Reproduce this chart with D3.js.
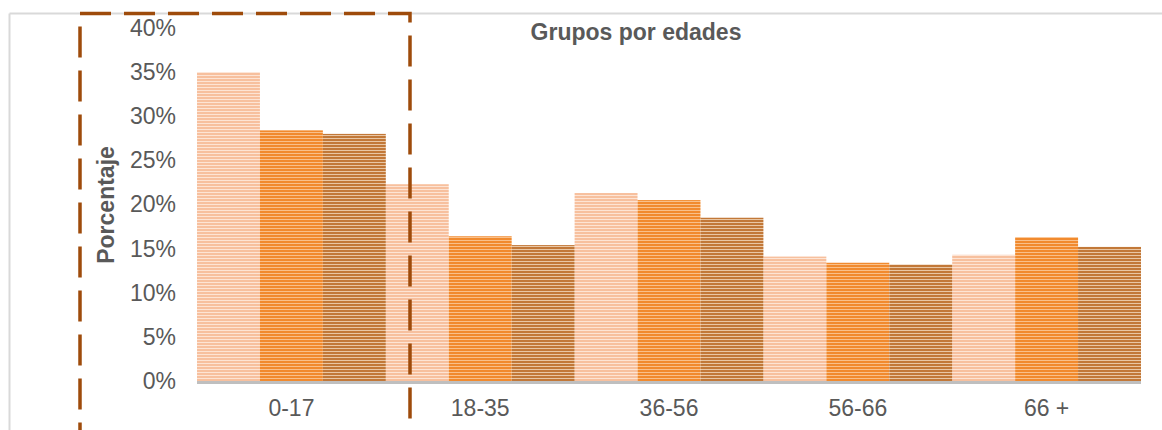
<!DOCTYPE html>
<head>
<meta charset="utf-8">
<title>Grupos por edades</title>
<script type="text/javascript" src="https://d3js.org/d3.v7.min.js"></script>
<style>
body { margin: 0; background: #fff; }
text { font-family: "Liberation Sans", Arial, sans-serif; fill: #595959; }
</style>
</head>
<body>
<div id="chart"></div>

<script>
// data
var categories = ["0-17", "18-35", "36-56", "56-66", "66 +"];
var serie1 = [35.0, 22.3, 21.3, 14.1, 14.3];
var serie2 = [28.4, 16.4, 20.5, 13.4, 16.3];
var serie3 = [28.0, 15.4, 18.5, 13.2, 15.2];
var yTicks = [0, 5, 10, 15, 20, 25, 30, 35, 40];

var seriesNames = ["serie1", "serie2", "serie3"];
var seriesData = [serie1, serie2, serie3];

// stripe colours for each series: [background, stripe]
var stripes = [["#fde4d4", "#f7c09e"], ["#f9c08a", "#f18a2e"], ["#e9c6a4", "#c27838"]];

var width = 1162, height = 430;
var plot = {left: 197, right: 1141, top: 28, bottom: 381};

var svg = d3.select("#chart")
  .append("svg")
    .attr("width", width)
    .attr("height", height);

// striped fills
var defs = svg.append("defs");
stripes.forEach(function(c, i) {
  var p = defs.append("pattern")
    .attr("id", "stripe" + i)
    .attr("patternUnits", "userSpaceOnUse")
    .attr("width", 6)
    .attr("height", 3);
  p.append("rect").attr("width", 6).attr("height", 3).attr("fill", c[0]);
  p.append("rect").attr("y", 1).attr("width", 6).attr("height", 2).attr("fill", c[1]);
});
defs.append("filter").attr("id", "soft")
  .append("feGaussianBlur").attr("stdDeviation", 0.6);

// outer frame (top and left only visible)
svg.append("line")
  .attr("x1", 9.5).attr("y1", 13.5).attr("x2", 1162).attr("y2", 13.5)
  .attr("stroke", "#d9d9d9").attr("stroke-width", 2);
svg.append("line")
  .attr("x1", 9.5).attr("y1", 13.5).attr("x2", 9.5).attr("y2", 430)
  .attr("stroke", "#d9d9d9").attr("stroke-width", 2);

// scales
var xScale = d3.scaleBand()
  .domain(categories)
  .range([plot.left, plot.right])
  .padding(0);

var xInner = d3.scaleBand()
  .domain(seriesNames)
  .range([0, xScale.bandwidth()])
  .padding(0);

var yScale = d3.scaleLinear()
  .domain([0, 40])
  .range([plot.bottom, plot.top]);

// bars
seriesData.forEach(function(values, s) {
  svg.append("g")
    .attr("filter", "url(#soft)")
    .selectAll("rect")
    .data(values)
    .enter()
    .append("rect")
      .attr("x", function(d, i) { return xScale(categories[i]) + xInner(seriesNames[s]); })
      .attr("y", function(d) { return yScale(d); })
      .attr("width", xInner.bandwidth())
      .attr("height", function(d) { return yScale(0) - yScale(d); })
      .attr("fill", "url(#stripe" + s + ")");
});

// baseline
svg.append("line")
  .attr("x1", plot.left).attr("x2", plot.right)
  .attr("y1", yScale(0) + 1.5).attr("y2", yScale(0) + 1.5)
  .attr("stroke", "#bfbfbf").attr("stroke-width", 3);

// Y axis
var yAxis = d3.axisLeft(yScale)
  .tickValues(yTicks)
  .tickFormat(function(d) { return d + "%"; })
  .tickSize(0)
  .tickPadding(0);

var gy = svg.append("g")
  .attr("transform", "translate(176,0)")
  .call(yAxis);
gy.select(".domain").remove();
gy.selectAll("text")
  .style("font-size", "23px")
  .attr("fill", "#595959");

// X axis
var xAxis = d3.axisBottom(xScale).tickSize(0).tickPadding(0);
var gx = svg.append("g")
  .attr("transform", "translate(0,408)")
  .call(xAxis);
gx.select(".domain").remove();
gx.selectAll("text")
  .attr("y", 0)
  .attr("dy", "0.35em")
  .style("font-size", "23px")
  .attr("fill", "#595959");

// title
svg.append("text")
  .attr("x", 636)
  .attr("y", 40)
  .attr("text-anchor", "middle")
  .style("font-size", "23px")
  .style("font-weight", "bold")
  .text("Grupos por edades");

// y label
svg.append("text")
  .attr("transform", "translate(114,205) rotate(-90)")
  .attr("text-anchor", "middle")
  .style("font-size", "23px")
  .style("font-weight", "bold")
  .text("Porcentaje");

// dashed highlight box around 0-17
svg.append("rect")
  .attr("x", 80)
  .attr("y", 13.5)
  .attr("width", 330)
  .attr("height", 440)
  .attr("fill", "none")
  .attr("stroke", "#9e4b0b")
  .attr("stroke-width", 3.5)
  .attr("stroke-dasharray", "31,13");
</script>
</body>
